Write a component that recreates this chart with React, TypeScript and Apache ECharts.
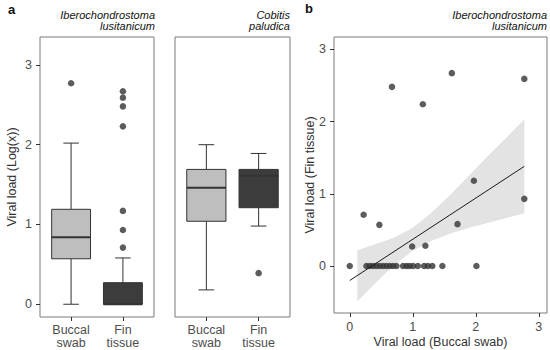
import React, { useEffect, useRef } from "react";
import * as echarts from "echarts";

// ---------- data ----------
const boxCategories = ["Buccal\nswab", "Fin\ntissue"];
const boxFills = ["#bebebe", "#3c3c3c"];
// [position, lowerWhisker, q1, median, q3, upperWhisker]
const iberoBoxes = [
  [1, 0.0, 0.57, 0.84, 1.19, 2.02],
  [2, 0.0, 0.0, 0.0, 0.27, 0.58],
];
const cobitisBoxes = [
  [1, 0.18, 1.04, 1.46, 1.69, 2.0],
  [2, 0.98, 1.21, 1.61, 1.69, 1.89],
];
const iberoOutliers = [
  [1, 2.77],
  [2, 0.71],
  [2, 0.93],
  [2, 1.17],
  [2, 2.23],
  [2, 2.48],
  [2, 2.59],
  [2, 2.67],
];
const cobitisOutliers = [[2, 0.39]];

const buccalSwab = [
  0, 0.265, 0.317, 0.37, 0.423, 0.476, 0.529, 0.582, 0.635, 0.688, 0.741, 0.846, 0.9,
  0.95, 1.005, 1.08, 1.18, 1.24, 1.31, 1.47, 2.01, 0.22, 0.47, 0.99, 1.2, 1.71, 1.97,
  2.77, 0.67, 1.16, 1.62, 2.77,
];
const finTissue = [
  0, 0, 0, 0, 0, 0, 0, 0, 0, 0, 0, 0, 0, 0, 0, 0, 0, 0, 0, 0, 0, 0.71, 0.57, 0.27,
  0.28, 0.58, 1.18, 0.93, 2.48, 2.24, 2.67, 2.59,
];

const fitLineX = [0, 2.77];
const fitLineY = [-0.2, 1.38];
const bandX = [0.12, 0.4, 0.7, 1.0, 1.3, 1.6, 1.9, 2.2, 2.5, 2.77];
const bandLower = [-0.49, -0.24, 0.01, 0.21, 0.35, 0.45, 0.53, 0.6, 0.67, 0.73];
const bandUpper = [0.22, 0.3, 0.39, 0.53, 0.74, 0.99, 1.26, 1.53, 1.79, 2.03];

const boxYTicks = [0, 1, 2, 3];
const scatterTicks = [0, 1, 2, 3];

// ---------- styles ----------
const FONT = "'Liberation Sans', Arial, sans-serif";
const TICK_COLOR = "#4d4d4d";
const BORDER = "#7a7a7a";
const INK = "#333333";

function boxRenderItem(boxes: number[][]) {
  return (params: any, api: any) => {
    const x = api.value(0);
    const lo = api.value(1);
    const q1 = api.value(2);
    const med = api.value(3);
    const q3 = api.value(4);
    const hi = api.value(5);
    const half = 0.375;
    const cap = 0.15;
    const fill = boxFills[params.dataIndex];
    const c = (a: number, b: number) => api.coord([a, b]);
    const tl = c(x - half, q3);
    const br = c(x + half, q1);
    const line = (p1: number[], p2: number[], w = 1) => ({
      type: "line",
      shape: { x1: p1[0], y1: p1[1], x2: p2[0], y2: p2[1] },
      style: { stroke: INK, lineWidth: w },
    });
    return {
      type: "group",
      children: [
        line(c(x, q3), c(x, hi)),
        line(c(x, lo), c(x, q1)),
        line(c(x - cap, hi), c(x + cap, hi)),
        line(c(x - cap, lo), c(x + cap, lo)),
        {
          type: "rect",
          shape: { x: tl[0], y: tl[1], width: br[0] - tl[0], height: br[1] - tl[1] },
          style: { fill, stroke: INK, lineWidth: 1 },
        },
        line(c(x - half, med), c(x + half, med), 2),
      ],
    };
  };
}

export default function App() {
  const ref = useRef<HTMLDivElement>(null);
  useEffect(() => {
    if (!ref.current) return;
    const chart = echarts.init(ref.current, null, { renderer: "svg" });

    const hiddenLine = { show: false, onZero: false };
    const boxX = (gridIndex: number) => ({
      type: "value",
      gridIndex,
      min: 0.4,
      max: 2.6,
      axisLine: hiddenLine,
      splitLine: { show: false },
      axisTick: { show: true, inside: false, length: 4, customValues: [1, 2], lineStyle: { color: INK } },
      axisLabel: {
        customValues: [1, 2],
        formatter: (v: number) => boxCategories[Math.round(v) - 1],
        color: TICK_COLOR,
        fontSize: 12.5,
        fontFamily: FONT,
        lineHeight: 13,
        margin: 6,
      },
    });
    const boxY = (gridIndex: number, showLabels: boolean) => ({
      type: "value",
      gridIndex,
      min: -0.16,
      max: 3.35,
      axisLine: hiddenLine,
      splitLine: { show: false },
      axisTick: {
        show: showLabels,
        inside: false,
        length: 4,
        customValues: boxYTicks,
        lineStyle: { color: INK },
      },
      axisLabel: {
        show: showLabels,
        customValues: boxYTicks,
        color: TICK_COLOR,
        fontSize: 12.5,
        fontFamily: FONT,
        margin: 8,
      },
    });

    const texts: any[] = [
      { t: "a", x: 8, y: 9, align: "left", font: `bold 13px ${FONT}` },
      { t: "b", x: 305, y: 8, align: "left", font: `bold 13px ${FONT}` },
      { t: "Iberochondrostoma\nlusitanicum", x: 155, y: 20.5, align: "right", font: `italic 11px ${FONT}` },
      { t: "Cobitis\npaludica", x: 290, y: 20.5, align: "right", font: `italic 11px ${FONT}` },
      { t: "Iberochondrostoma\nlusitanicum", x: 547, y: 20.5, align: "right", font: `italic 11px ${FONT}` },
    ].map((d) => ({
      type: "text",
      x: d.x,
      y: d.y,
      style: {
        text: d.t,
        font: d.font,
        fill: "#111",
        align: d.align,
        verticalAlign: "middle",
        lineHeight: 11,
      },
    }));
    const axisTitles = [
      { t: "Viral load (Log(x))", x: 12, y: 177, rot: Math.PI / 2 },
      { t: "Viral load (Fin tissue)", x: 310, y: 175, rot: Math.PI / 2 },
      { t: "Viral load (Buccal swab)", x: 440.5, y: 341.5, rot: 0 },
    ].map((d) => ({
      type: "text",
      x: d.x,
      y: d.y,
      rotation: d.rot,
      style: {
        text: d.t,
        font: `12.5px ${FONT}`,
        fill: INK,
        align: "center",
        verticalAlign: "middle",
      },
    }));

    chart.setOption({
      animation: false,
      backgroundColor: "#ffffff",
      grid: [
        { left: 40, top: 37, width: 114, height: 280, show: true, borderColor: BORDER, borderWidth: 1 },
        { left: 175, top: 37, width: 115, height: 280, show: true, borderColor: BORDER, borderWidth: 1 },
        { left: 334, top: 37, width: 213, height: 276, show: true, borderColor: BORDER, borderWidth: 1 },
      ],
      xAxis: [
        boxX(0),
        boxX(1),
        {
          type: "value",
          gridIndex: 2,
          min: -0.25,
          max: 3.13,
          axisLine: hiddenLine,
          splitLine: { show: false },
          axisTick: {
            show: true,
            inside: false,
            length: 4,
            customValues: scatterTicks,
            lineStyle: { color: INK },
          },
          axisLabel: {
            customValues: scatterTicks,
            color: TICK_COLOR,
            fontSize: 12.5,
            fontFamily: FONT,
            margin: 7,
          },
        },
      ],
      yAxis: [
        boxY(0, true),
        boxY(1, false),
        {
          type: "value",
          gridIndex: 2,
          min: -0.65,
          max: 3.17,
          axisLine: hiddenLine,
          splitLine: { show: false },
          axisTick: {
            show: true,
            inside: false,
            length: 4,
            customValues: scatterTicks,
            lineStyle: { color: INK },
          },
          axisLabel: {
            customValues: scatterTicks,
            color: TICK_COLOR,
            fontSize: 12.5,
            fontFamily: FONT,
            margin: 8,
          },
        },
      ],
      series: [
        {
          type: "custom",
          xAxisIndex: 0,
          yAxisIndex: 0,
          renderItem: boxRenderItem(iberoBoxes),
          encode: { x: 0, y: [1, 2, 3, 4, 5] },
          data: iberoBoxes,
          silent: true,
        },
        {
          type: "scatter",
          xAxisIndex: 0,
          yAxisIndex: 0,
          data: iberoOutliers,
          symbolSize: 6.5,
          itemStyle: { color: INK },
          silent: true,
        },
        {
          type: "custom",
          xAxisIndex: 1,
          yAxisIndex: 1,
          renderItem: boxRenderItem(cobitisBoxes),
          encode: { x: 0, y: [1, 2, 3, 4, 5] },
          data: cobitisBoxes,
          silent: true,
        },
        {
          type: "scatter",
          xAxisIndex: 1,
          yAxisIndex: 1,
          data: cobitisOutliers,
          symbolSize: 6.5,
          itemStyle: { color: INK },
          silent: true,
        },
        {
          type: "custom",
          xAxisIndex: 2,
          yAxisIndex: 2,
          data: [[bandX[0], bandLower[0]]],
          silent: true,
          renderItem: (_p: any, api: any) => {
            const pts: number[][] = [];
            bandX.forEach((x, i) => pts.push(api.coord([x, bandUpper[i]])));
            for (let i = bandX.length - 1; i >= 0; i--) pts.push(api.coord([bandX[i], bandLower[i]]));
            return {
              type: "polygon",
              shape: { points: pts },
              style: { fill: "#e3e3e3", stroke: "none" },
            };
          },
        },
        {
          type: "line",
          xAxisIndex: 2,
          yAxisIndex: 2,
          data: fitLineX.map((x, i) => [x, fitLineY[i]]),
          symbol: "none",
          lineStyle: { color: "#1a1a1a", width: 1 },
          silent: true,
        },
        {
          type: "scatter",
          xAxisIndex: 2,
          yAxisIndex: 2,
          data: buccalSwab.map((x, i) => [x, finTissue[i]]),
          symbolSize: 6.5,
          itemStyle: { color: INK },
          silent: true,
        },
      ],
      graphic: [...texts, ...axisTitles],
    });
    return () => chart.dispose();
  }, []);
  return (
    <div
      ref={ref}
      style={{ position: "absolute", left: 0, top: 0, width: 550, height: 350 }}
    />
  );
}
